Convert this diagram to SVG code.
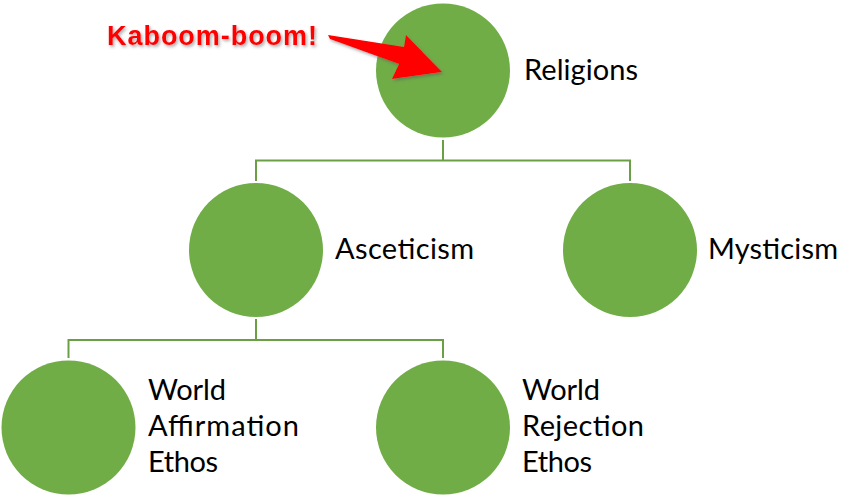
<svg xmlns="http://www.w3.org/2000/svg" width="845" height="499" viewBox="0 0 845 499">
  <defs>
    <filter id="shadow" x="-10%" y="-30%" width="130%" height="170%">
      <feDropShadow dx="1.5" dy="2" stdDeviation="1.5" flood-color="#555" flood-opacity="0.5"/>
    </filter>
  </defs>
  <style>
    .node { fill: #70AD47; }
    .conn { fill: none; stroke: #6A9F45; stroke-width: 2; }
    .lbl { font-family: Lato, "Open Sans", sans-serif; font-size: 29px; fill: #000; }
    .callout { font-family: "Liberation Sans", Arial, sans-serif; font-weight: bold; font-size: 27px; fill: #FF0000; }
  </style>
  <rect width="845" height="499" fill="#fff"/>
  <g id="connectors">
    <path class="conn" d="M443 140 V160.5 M256 181 V160.5 H630 V181"/>
    <path class="conn" d="M256 319 V340 M68.5 358 V340 H443 V358"/>
  </g>
  <g id="religions">
    <circle class="node" cx="443" cy="70.5" r="67"/>
    <text class="lbl" x="524" y="79.5" textLength="114">Religions</text>
  </g>
  <g id="asceticism">
    <circle class="node" cx="256" cy="250" r="67"/>
    <text class="lbl" x="335" y="258.5" textLength="139">Asceticism</text>
  </g>
  <g id="mysticism">
    <circle class="node" cx="630" cy="250" r="67"/>
    <text class="lbl" x="708" y="258.5" textLength="130">Mysticism</text>
  </g>
  <g id="world-affirmation">
    <circle class="node" cx="68.5" cy="427.5" r="67"/>
    <text class="lbl" x="148" y="400" textLength="78">World</text>
    <text class="lbl" x="148" y="436" textLength="151">Affirmation</text>
    <text class="lbl" x="148" y="472" textLength="70">Ethos</text>
  </g>
  <g id="world-rejection">
    <circle class="node" cx="443" cy="427.5" r="67"/>
    <text class="lbl" x="522" y="400" textLength="78">World</text>
    <text class="lbl" x="522" y="436" textLength="122">Rejection</text>
    <text class="lbl" x="522" y="472" textLength="70">Ethos</text>
  </g>
  <g id="callout">
    <polygon points="328,35 404,47 406,35 442,72 392,79 399,64 330,39" fill="#FF0000" filter="url(#shadow)"/>
    <text class="callout" x="107" y="45" textLength="210" filter="url(#shadow)">Kaboom-boom!</text>
  </g>
</svg>
